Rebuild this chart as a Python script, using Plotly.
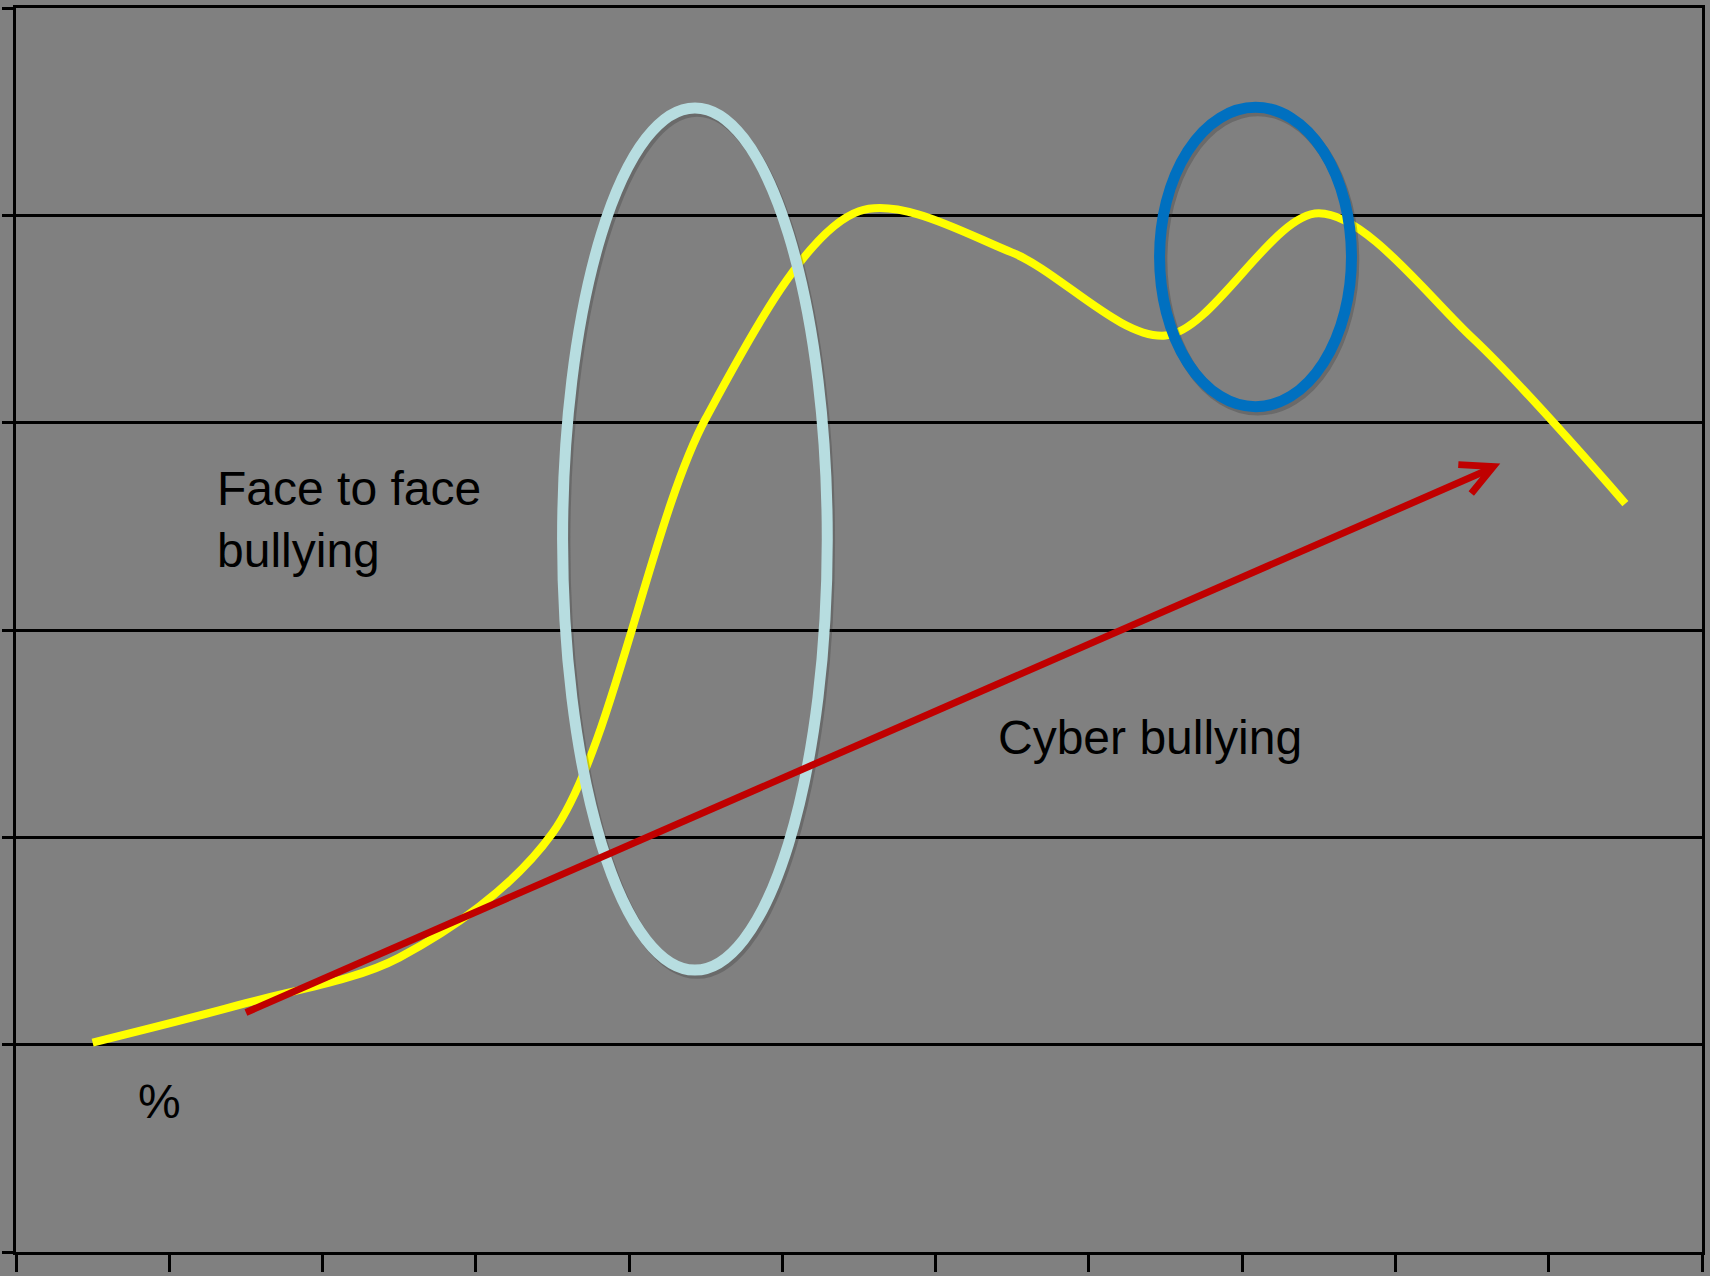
import plotly.graph_objects as go

# ---- data ----
categories = ["1", "2", "3", "4", "5", "6", "7", "8", "9", "10", "11"]
face_to_face = [5.05, 6.0, 7.1, 10.1, 20.1, 25.1, 24.1, 22.1, 25.05, 22.05, 18.05]
y_ticks = [0, 5, 10, 15, 20, 25, 30]

# ---- styling / decoration geometry ----
BG = "#808080"
W, H = 1710, 1276
ML, MR, MT, MB = 14, 8, 5, 24

fig = go.Figure()

fig.add_trace(go.Scatter(
    x=list(range(len(categories))), y=face_to_face, mode="lines",
    line=dict(color="#FFFF00", width=8, shape="spline", smoothing=0.9),
    hoverinfo="skip", showlegend=False,
))

shapes = []
# ellipse shadows
for (x0, x1, y0, y1) in [(3.066, 4.793, 6.80, 27.59), (6.961, 8.213, 20.385, 27.605)]:
    shapes.append(dict(type="circle", xref="x", yref="y", x0=x0 + 0.015, x1=x1 + 0.015,
                       y0=y0 - 0.08, y1=y1 - 0.08,
                       line=dict(color="rgba(40,40,40,0.25)", width=11), layer="above"))
# light-blue ellipse
shapes.append(dict(type="circle", xref="x", yref="y", x0=3.066, x1=4.793, y0=6.80, y1=27.59,
                   line=dict(color="#B7DDE0", width=11), layer="above"))
# blue ellipse
shapes.append(dict(type="circle", xref="x", yref="y", x0=6.961, x1=8.213, y0=20.385, y1=27.605,
                   line=dict(color="#0070C0", width=11), layer="above"))

# red arrow
ax0, ay0, ax1, ay1 = 1.0, 5.776, 9.138, 18.94
shapes.append(dict(type="line", xref="x", yref="y", x0=ax0, y0=ay0, x1=ax1 - 0.03, y1=ay1 - 0.07,
                   line=dict(color="#C00000", width=7), layer="above"))
shapes.append(dict(type="path", xref="x", yref="y",
                   path=f"M {ax1-0.228},{ay1+0.048} L {ax1},{ay1} L {ax1-0.1434},{ay1-0.65}",
                   line=dict(color="#C00000", width=7), layer="above"))

fig.update_layout(shapes=shapes)

font = dict(family="Liberation Sans, Arial, sans-serif", size=48, color="#000000")
def px(xp):
    return (xp - ML) / (W - ML - MR)
def py(yp):
    return (1252 - yp) / (1252 - MT)

fig.add_annotation(x=px(213), y=py(458), xref="paper", yref="paper", xanchor="left", yanchor="top",
                   text="Face to face<br>bullying", showarrow=False, align="left", font=font)
fig.add_annotation(x=px(995), y=py(708), xref="paper", yref="paper", xanchor="left", yanchor="top",
                   text="Cyber bullying", showarrow=False, align="left", font=font)
fig.add_annotation(x=px(134), y=py(1073), xref="paper", yref="paper", xanchor="left", yanchor="top",
                   text="%", showarrow=False, align="left", font=font)

fig.update_xaxes(
    type="linear", range=[-0.5, len(categories) - 0.5],
    tickmode="array", tickvals=[i - 0.5 for i in range(len(categories) + 1)],
    showticklabels=False, ticks="outside", ticklen=17, tickwidth=3, tickcolor="black",
    showline=True, linecolor="black", linewidth=3, mirror=True,
    showgrid=False, zeroline=False,
)
fig.update_yaxes(
    range=[0, 30], tickmode="array", tickvals=y_ticks,
    showticklabels=False, ticks="outside", ticklen=11, tickwidth=3, tickcolor="black",
    showline=True, linecolor="black", linewidth=3, mirror=True,
    showgrid=True, gridcolor="black", gridwidth=2.5, zeroline=False,
)

fig.update_layout(
    width=W, height=H, autosize=False,
    margin=dict(l=ML, r=MR, t=MT, b=MB, pad=0),
    paper_bgcolor=BG, plot_bgcolor=BG,
    showlegend=False,
)

fig.write_html("out.html", config={"displayModeBar": False},
               post_script="document.body.style.margin='0';document.body.style.overflow='hidden';")
